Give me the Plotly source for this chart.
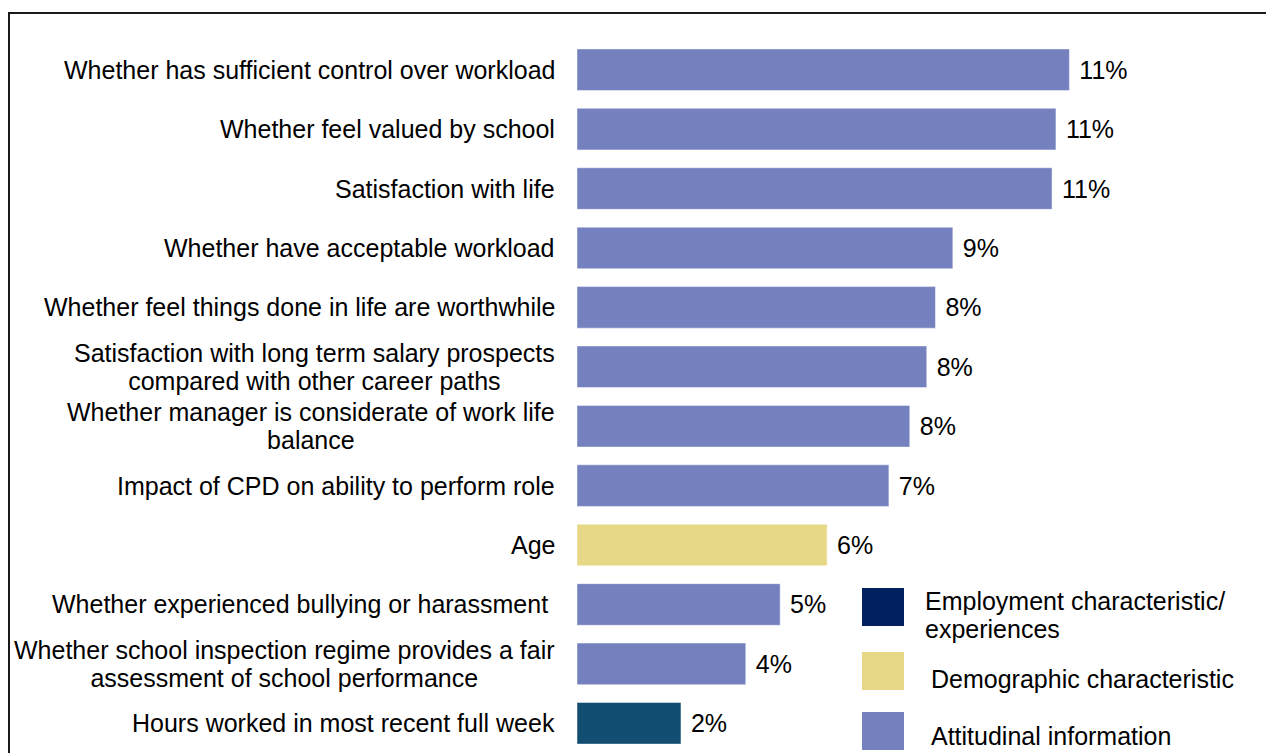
import plotly.graph_objects as go

# ---- data ----
categories = [
    "Whether has sufficient control over workload",
    "Whether feel valued by school",
    "Satisfaction with life",
    "Whether have acceptable workload",
    "Whether feel things done in life are worthwhile",
    "Satisfaction with long term salary prospects<br>compared with other career paths",
    "Whether manager is considerate of work life<br>balance",
    "Impact of CPD on ability to perform role",
    "Age",
    "Whether experienced bullying or harassment\u00a0",
    "Whether school inspection regime provides a fair<br>assessment of school performance",
    "Hours worked in most recent full week",
]
values = [11.32, 11.01, 10.92, 8.64, 8.24, 8.04, 7.65, 7.17, 5.75, 4.67, 3.88, 2.39]
value_labels = ["11%", "11%", "11%", "9%", "8%", "8%", "8%", "7%", "6%", "5%", "4%", "2%"]
groups = ["att", "att", "att", "att", "att", "att", "att", "att", "demo", "att", "att", "emp"]

legend_keys = ["emp", "demo", "att"]
legend_names = ["Employment characteristic/<br>experiences", "Demographic characteristic", "Attitudinal information"]

# ---- styles ----
bar_colors = {"att": "#7581BF", "demo": "#E6D887", "emp": "#124E72"}
legend_colors = {"emp": "#002060", "demo": "#E6D887", "att": "#7581BF"}
FONT = "Liberation Sans, Arial, sans-serif"
FS = 25
LINE_PX = 27.5          # desired line pitch for wrapped labels
BASE_FS = LINE_PX / 1.3  # plotly uses 1.3em line spacing

W, H = 1266, 753
ML, MR, MT, MB = 577, 0, 40, 0
PW, PH = W - ML - MR, H - MT - MB
XMAX = PW / 43.5


def px_x(px):
    return (px - ML) / PW


def px_y(py):
    return (H - MB - py) / PH


def sized(text):
    return "<br>".join(f"<span style='font-size:{FS}px'>{ln}</span>" for ln in text.split("<br>"))


fig = go.Figure()
fig.add_trace(go.Bar(
    y=categories,
    x=values,
    orientation="h",
    marker=dict(color=[bar_colors[g] for g in groups], line=dict(color="rgba(255,255,255,0.45)", width=1)),
    text=["\u00a0" + t for t in value_labels],
    textposition="outside",
    textfont=dict(family=FONT, size=FS, color="black"),
    constraintext="none",
    cliponaxis=False,
    hoverinfo="skip",
))

annotations = []
# category labels: block right-aligned, lines centred, tight line spacing
for cat in categories:
    multi = "<br>" in cat
    annotations.append(dict(
        x=0, xref="paper", y=cat, yref="y",
        text=sized(cat) if multi else cat, showarrow=False,
        xanchor="right", yanchor="middle", align="center",
        xshift=-20,
        font=dict(family=FONT, size=BASE_FS if multi else FS, color="black"),
    ))

# legend
shapes = []
sw_tops = [588, 652, 712]
sw_h = 38
text_pos = [[(923, 601), (923, 629)], [(929, 679)], [(929, 736)]]
for key, name, top, tp in zip(legend_keys, legend_names, sw_tops, text_pos):
    shapes.append(dict(type="rect", xref="paper", yref="paper",
                       x0=px_x(862), x1=px_x(904), y0=px_y(top + sw_h), y1=px_y(top),
                       fillcolor=legend_colors[key], line=dict(width=0)))
    for ln, (tx, ty) in zip(name.split("<br>"), tp):
        annotations.append(dict(
            x=px_x(tx), xref="paper", y=px_y(ty), yref="paper",
            text=ln, showarrow=False, xanchor="left", yanchor="middle",
            font=dict(family=FONT, size=FS, color="black"),
        ))

# outer frame
shapes.append(dict(type="rect", xref="paper", yref="paper",
                   x0=px_x(9), x1=px_x(1300), y0=px_y(800), y1=px_y(13),
                   line=dict(color="#1a1a1a", width=2), fillcolor="rgba(0,0,0,0)", layer="below"))

fig.update_layout(
    width=W, height=H,
    margin=dict(l=ML, r=MR, t=MT, b=MB),
    paper_bgcolor="white", plot_bgcolor="white",
    showlegend=False,
    bargap=0.30,
    xaxis=dict(range=[0, XMAX], visible=False, fixedrange=True),
    yaxis=dict(autorange="reversed", showticklabels=False, showgrid=False, zeroline=False,
               showline=False, ticks="", fixedrange=True),
    annotations=annotations,
    shapes=shapes,
    font=dict(family=FONT, size=FS, color="black"),
)

fig.write_html("out.html", config={"displayModeBar": False},
               post_script="document.body.style.margin='0';document.body.style.overflow='hidden';")
